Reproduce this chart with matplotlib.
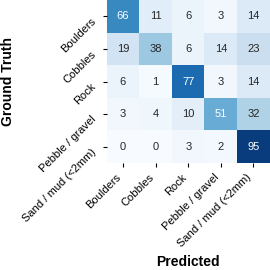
import numpy as np
import matplotlib
matplotlib.use("Agg")
import matplotlib.pyplot as plt
import seaborn as sns

classes = ["Boulders", "Cobbles", "Rock", "Pebble / gravel", "Sand / mud (<2mm)"]
values = [
    [66, 11, 6, 3, 14],
    [19, 38, 6, 14, 23],
    [6, 1, 77, 3, 14],
    [3, 4, 10, 51, 32],
    [0, 0, 3, 2, 95],
]

plt.rcParams['font.family'] = ['Liberation Sans', 'DejaVu Sans']

fig = plt.figure(figsize=(2.7, 2.7), dpi=100)
ax = fig.add_axes([0.395, 0.396, 0.604, 0.604])
sns.heatmap(np.array(values), annot=True, fmt="d", cmap="Blues", vmin=0, vmax=100,
            cbar=False, square=False, ax=ax, annot_kws={"size": 8},
            xticklabels=classes, yticklabels=classes)
ax.tick_params(axis="both", labelsize=8, length=3, width=0.8)
plt.setp(ax.get_xticklabels(), rotation=45, ha="right", va="top")
plt.setp(ax.get_yticklabels(), rotation=45, ha="right", va="top")
ax.set_xlabel("Predicted", fontsize=10, fontweight="bold")
ax.set_ylabel("Ground Truth", fontsize=10, fontweight="bold")
fig.savefig("out.png", dpi=100)
